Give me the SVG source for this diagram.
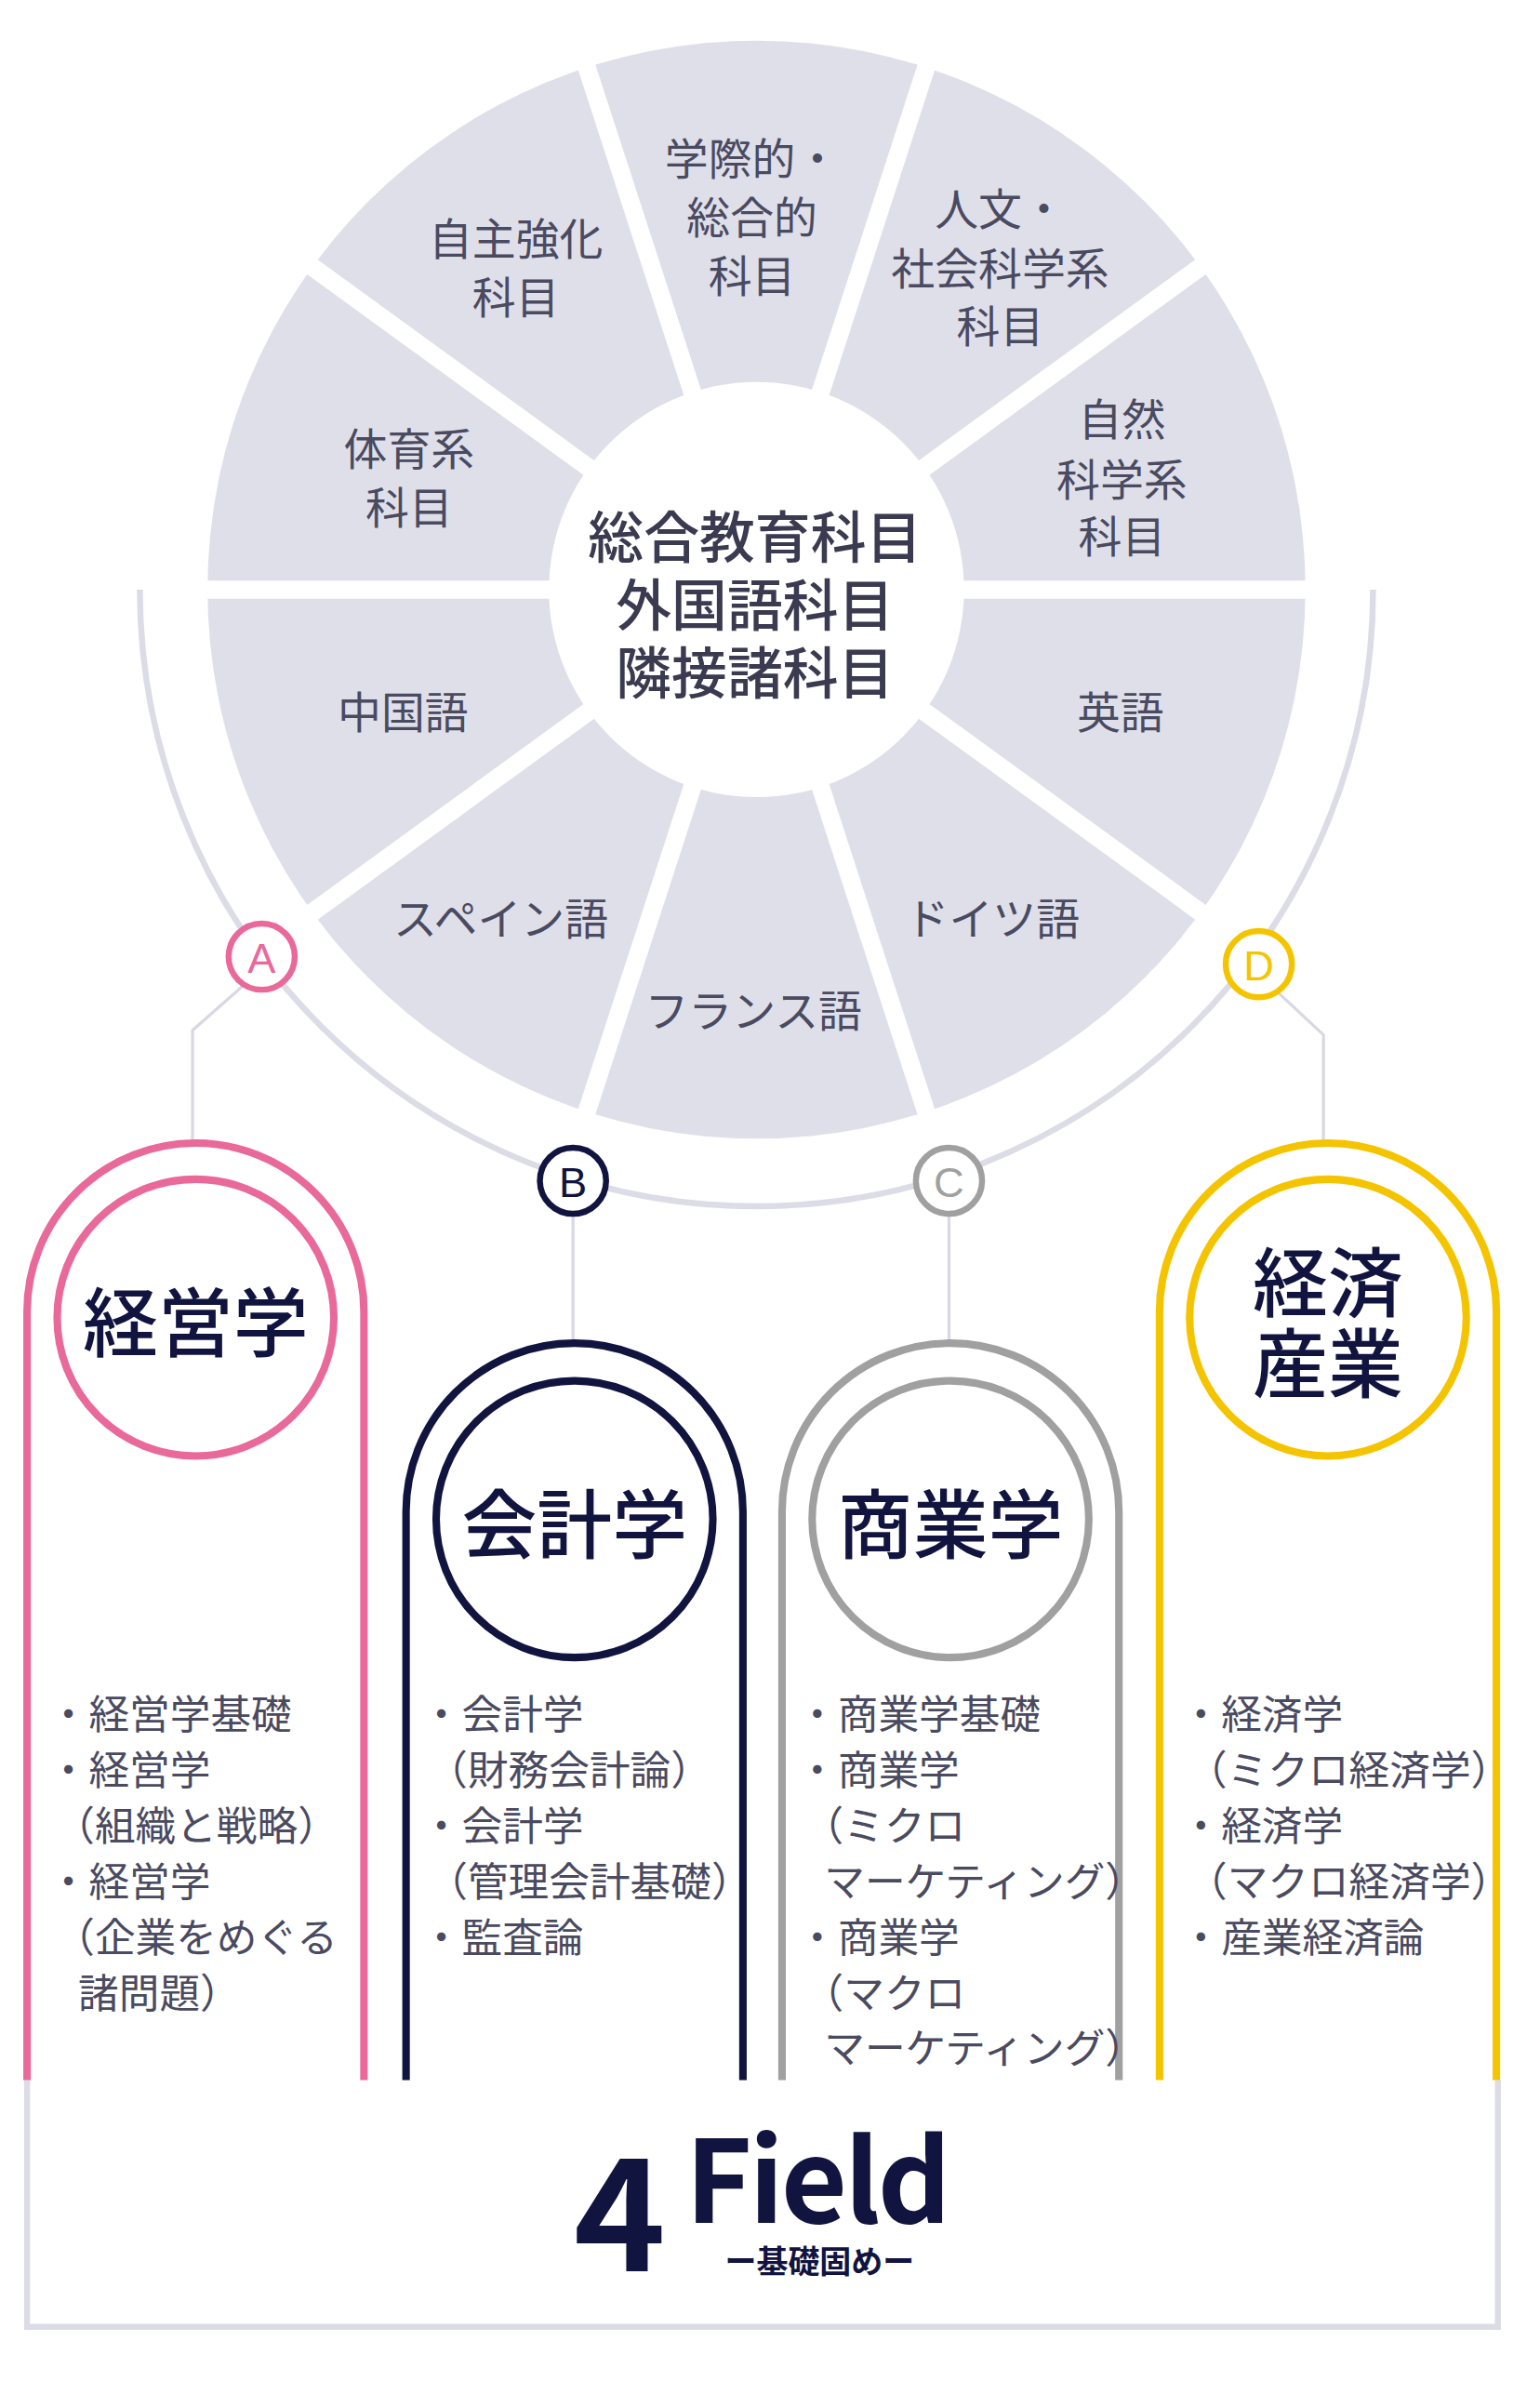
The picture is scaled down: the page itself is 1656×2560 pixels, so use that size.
<svg xmlns="http://www.w3.org/2000/svg" width="1656" height="2560" viewBox="0 0 1656 2560">
<style>
text{font-family:"Noto Sans CJK JP","Noto Sans",sans-serif;}
.seg{font-size:29px;fill:#4a4a60;text-anchor:middle;dominant-baseline:central;}
.ctr{font-size:37px;fill:#3a3a50;text-anchor:middle;dominant-baseline:central;font-weight:500;}
.li{font-size:27px;fill:#4a4a60;dominant-baseline:central;}
.ttl{font-size:50px;fill:#121440;text-anchor:middle;dominant-baseline:central;font-weight:500;}
.badge{fill:#fff;stroke-width:4;}
.bl{font-size:28px;text-anchor:middle;dominant-baseline:central;font-family:"Liberation Sans",sans-serif;}
.conn{fill:none;stroke:#d8d8e4;stroke-width:2;}
.gap{stroke:#fff;stroke-width:12;}
</style>
<rect width="1656" height="2560" fill="#fff"/>
<g transform="scale(1.6172)">
<g id="wheel">
<circle cx="503" cy="392" r="365" fill="#dfdfea"/>
<g class="gap">
<line x1="503" y1="20" x2="503" y2="764" transform="rotate(18 503 392)"/>
<line x1="503" y1="20" x2="503" y2="764" transform="rotate(54 503 392)"/>
<line x1="503" y1="20" x2="503" y2="764" transform="rotate(90 503 392)"/>
<line x1="503" y1="20" x2="503" y2="764" transform="rotate(126 503 392)"/>
<line x1="503" y1="20" x2="503" y2="764" transform="rotate(162 503 392)"/>
</g>
<circle cx="503" cy="392" r="138" fill="#fff"/>
<text class="seg" x="343" y="157">自主強化</text><text class="seg" x="343" y="196">科目</text>
<text class="seg" x="500" y="104">学際的・</text><text class="seg" x="500" y="143">総合的</text><text class="seg" x="500" y="182">科目</text>
<text class="seg" x="665" y="137">人文・</text><text class="seg" x="665" y="177">社会科学系</text><text class="seg" x="665" y="215">科目</text>
<text class="seg" x="746" y="277">自然</text><text class="seg" x="746" y="317">科学系</text><text class="seg" x="746" y="355">科目</text>
<text class="seg" x="272" y="297">体育系</text><text class="seg" x="272" y="336">科目</text>
<text class="seg" x="268" y="472">中国語</text>
<text class="seg" x="745" y="472">英語</text>
<text class="seg" x="333" y="609">スペイン語</text>
<text class="seg" x="501" y="670">フランス語</text>
<text class="seg" x="660" y="609">ドイツ語</text>
<text class="ctr" x="502" y="355">総合教育科目</text>
<text class="ctr" x="502" y="400">外国語科目</text>
<text class="ctr" x="502" y="445">隣接諸科目</text>
</g>
<g id="connectors">
<path d="M93 392 A410 410 0 0 0 913 392" fill="none" stroke="#dcdce6" stroke-width="4"/>
<path class="conn" d="M162 655 L128 685 V760"/>
<path class="conn" d="M850 660 L880 688 V760"/>
<path class="conn" d="M381 807 V893"/>
<path class="conn" d="M631 807 V893"/>
<path d="M18 1383 V1547 H996 V1383" fill="none" stroke="#dcdce6" stroke-width="4"/>
</g>
<g id="badgeA"><circle class="badge" cx="174" cy="636" r="22" stroke="#e8699a"/><text class="bl" x="174" y="637" fill="#e8699a">A</text></g>
<g id="badgeB"><circle class="badge" cx="381" cy="785" r="22" stroke="#121440"/><text class="bl" x="381" y="786" fill="#121440">B</text></g>
<g id="badgeC"><circle class="badge" cx="631" cy="785" r="22" stroke="#a0a0a0"/><text class="bl" x="631" y="786" fill="#a0a0a0">C</text></g>
<g id="badgeD"><circle class="badge" cx="837" cy="641" r="22" stroke="#f5c400"/><text class="bl" x="837" y="642" fill="#f5c400">D</text></g>
<g id="colA">
<path d="M18 1383 V872 A112 112 0 0 1 242 872 V1383" fill="none" stroke="#e8699a" stroke-width="5"/>
<circle cx="130" cy="876" r="92" fill="none" stroke="#e8699a" stroke-width="5"/>
<text class="ttl" x="130" y="876">経営学</text>
<text class="li" x="32" y="1138">・経営学基礎</text>
<text class="li" x="32" y="1175">・経営学</text>
<text class="li" x="36" y="1212">（組織と戦略）</text>
<text class="li" x="32" y="1249">・経営学</text>
<text class="li" x="36" y="1286">（企業をめぐる</text>
<text class="li" x="52" y="1323">諸問題）</text>
</g>
<g id="colB">
<path d="M270 1383 V1005 A112 112 0 0 1 494 1005 V1383" fill="none" stroke="#121440" stroke-width="5"/>
<circle cx="382" cy="1010" r="92" fill="none" stroke="#121440" stroke-width="5"/>
<text class="ttl" x="382" y="1010">会計学</text>
<text class="li" x="280" y="1138">・会計学</text>
<text class="li" x="284" y="1175">（財務会計論）</text>
<text class="li" x="280" y="1212">・会計学</text>
<text class="li" x="284" y="1249">（管理会計基礎）</text>
<text class="li" x="280" y="1286">・監査論</text>
</g>
<g id="colC">
<path d="M520 1383 V1005 A112 112 0 0 1 744 1005 V1383" fill="none" stroke="#a0a0a0" stroke-width="5"/>
<circle cx="632" cy="1010" r="92" fill="none" stroke="#a0a0a0" stroke-width="5"/>
<text class="ttl" x="632" y="1010">商業学</text>
<text class="li" x="530" y="1138">・商業学基礎</text>
<text class="li" x="530" y="1175">・商業学</text>
<text class="li" x="534" y="1212">（ミクロ</text>
<text class="li" x="548" y="1249">マーケティング）</text>
<text class="li" x="530" y="1286">・商業学</text>
<text class="li" x="534" y="1323">（マクロ</text>
<text class="li" x="548" y="1360">マーケティング）</text>
</g>
<g id="colD">
<path d="M771 1383 V872 A112 112 0 0 1 995 872 V1383" fill="none" stroke="#f5c400" stroke-width="5"/>
<circle cx="883" cy="876" r="92" fill="none" stroke="#f5c400" stroke-width="5"/>
<text class="ttl" x="883" y="849">経済</text>
<text class="ttl" x="883" y="903">産業</text>
<text class="li" x="785" y="1138">・経済学</text>
<text class="li" x="789" y="1175">（ミクロ経済学）</text>
<text class="li" x="785" y="1212">・経済学</text>
<text class="li" x="789" y="1249">（マクロ経済学）</text>
<text class="li" x="785" y="1286">・産業経済論</text>
</g>
<g id="title">
<text x="412" y="1510" font-size="104" font-weight="700" fill="#121440" text-anchor="middle" font-family="Liberation Sans,sans-serif">4</text>
<text x="543" y="1478" font-size="76" font-weight="700" fill="#121440" text-anchor="middle" font-family="Liberation Sans,sans-serif" letter-spacing="-2">Field</text>
<text x="545" y="1502" font-size="21" font-weight="700" fill="#121440" text-anchor="middle" dominant-baseline="central">ー基礎固めー</text>
</g>
</g>
</svg>
